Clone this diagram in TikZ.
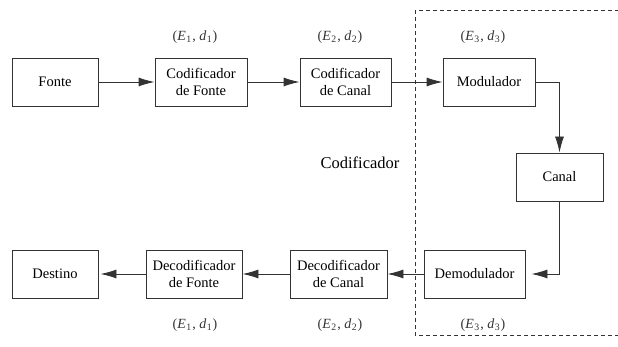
\documentclass[tikz,border=0pt]{standalone}
\usepackage{fontspec}
\setmainfont{Liberation Serif}
\usetikzlibrary{arrows.meta}
\definecolor{linec}{HTML}{333333}
\newcommand{\pairlab}[1]{(\textit{E}\kern0.5pt\textsubscript{#1}\kern0.5pt,\ \textit{d}\kern0.5pt\textsubscript{#1}\kern0.5pt)}
\begin{document}
\begin{tikzpicture}[x=1pt,y=-1pt,
  blk/.style={draw=linec,line width=0.9pt,minimum height=48pt,inner sep=1pt,align=center,font=\fontsize{14.5}{16.5}\selectfont},
  conn/.style={draw=linec,line width=0.9pt,-{Latex[length=16pt,width=9pt]}},
  lab/.style={font=\fontsize{14}{16}\selectfont,text=black!80}]
\useasboundingbox (0,0) rectangle (618,347);
\draw[linec,line width=0.8pt,dash pattern=on 4pt off 3pt] (415,10) rectangle (640,335);
\node[blk,minimum width=86pt] (fonte) at (55,82) {Fonte};
\node[blk,minimum width=92pt] (codf) at (201,82) {Codificador\\de Fonte};
\node[blk,minimum width=91pt] (codc) at (345.5,82) {Codificador\\de Canal};
\node[blk,minimum width=92pt] (mod) at (489,82) {Modulador};
\node[blk,minimum width=87pt] (canal) at (559.5,177) {Canal};
\node[blk,minimum width=101pt] (demod) at (474.5,274) {Demodulador};
\node[blk,minimum width=97pt] (decc) at (338.5,274) {Decodificador\\de Canal};
\node[blk,minimum width=96pt] (decf) at (194,274) {Decodificador\\de Fonte};
\node[blk,minimum width=86pt] (dest) at (55,274) {Destino};
\node[lab] (l1) at (195,37) {\pairlab{1}};
\node[lab] (l2) at (340,37) {\pairlab{2}};
\node[lab] (l3) at (483,37) {\pairlab{3}};
\node[lab] (b1) at (195,325) {\pairlab{1}};
\node[lab] (b2) at (340,325) {\pairlab{2}};
\node[lab] (b3) at (483,325) {\pairlab{3}};
\node[font=\fontsize{16.5}{18}\selectfont] (cod) at (360,163) {Codificador};
\draw[conn] (fonte) -- (codf);
\draw[conn] (codf) -- (codc);
\draw[conn] (codc) -- (mod);
\draw[conn] (mod.east) -| (canal.north);
\draw[conn,shorten >=6pt] (canal.south) |- (demod.east);
\draw[conn] (demod) -- (decc);
\draw[conn] (decc) -- (decf);
\draw[conn,shorten >=2pt] (decf) -- (dest);
\end{tikzpicture}
\end{document}
